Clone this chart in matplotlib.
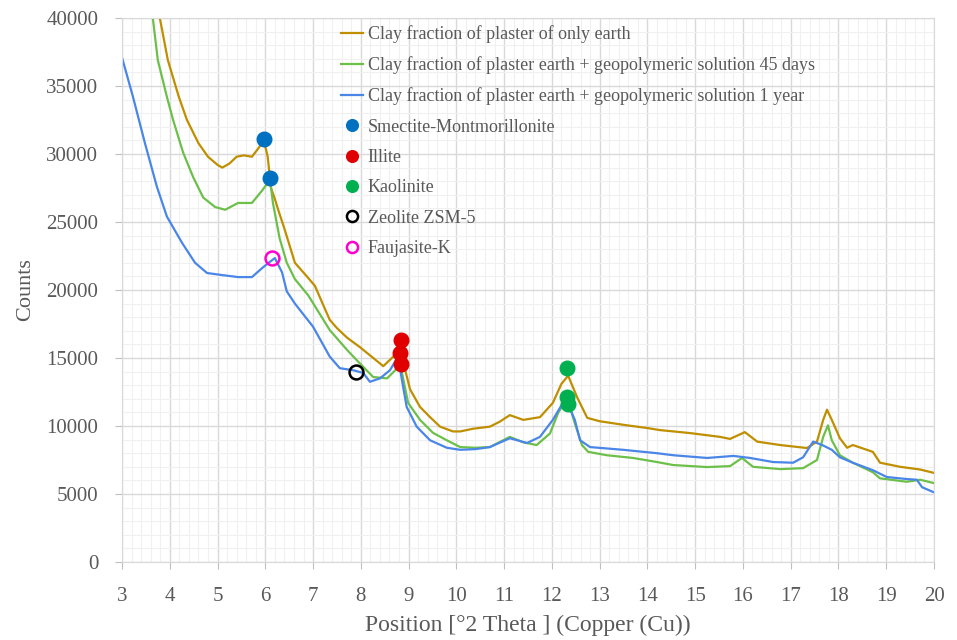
import matplotlib
matplotlib.use("Agg")
import matplotlib.pyplot as plt
from matplotlib.ticker import MultipleLocator

plt.rcParams['font.family'] = ['Liberation Serif', 'DejaVu Serif']

# XRD patterns
x_earth = [3.55, 3.8, 3.96, 4.19, 4.36, 4.6, 4.8, 5.0, 5.1, 5.25, 5.4, 5.55, 5.72, 5.83, 5.97,
           6.05, 6.12, 6.2, 6.27, 6.41, 6.62, 6.87, 7.04, 7.2, 7.35, 7.5, 7.71, 7.98, 8.26, 8.47,
           8.68, 8.84, 8.93, 9.03, 9.24, 9.45, 9.66, 9.93, 10.08, 10.35, 10.7, 10.9, 11.12, 11.4,
           11.75, 12.02, 12.2, 12.34, 12.53, 12.74, 13.0, 13.57, 14.0, 14.26, 14.89, 15.52, 15.73,
           16.04, 16.3, 16.78, 17.34, 17.55, 17.68, 17.76, 17.86, 18.03, 18.18, 18.3, 18.72, 18.87,
           19.29, 19.71, 20.0]
y_earth = [43500, 39850, 36900, 34200, 32500, 30800, 29800, 29200, 29000, 29300, 29800, 29900, 29800,
           30300, 31000, 29800, 27500, 26700, 25900, 24400, 22000, 21000, 20300, 19000, 17800, 17200,
           16500, 15800, 15000, 14400, 15100, 16000, 14100, 12700, 11400, 10650, 9950, 9600, 9600,
           9800, 9950, 10300, 10800, 10450, 10650, 11700, 13100, 13700, 12100, 10600, 10350, 10050,
           9850, 9700, 9480, 9200, 9050, 9550, 8850, 8600, 8380, 8850, 10450, 11200, 10450, 9100,
           8400, 8600, 8100, 7300, 7000, 6800, 6550]

x_45d = [3.5, 3.65, 3.75, 3.94, 4.07, 4.28, 4.49, 4.7, 4.95, 5.16, 5.43, 5.72, 5.93, 6.1, 6.16,
         6.3, 6.45, 6.62, 6.9, 7.35, 7.71, 7.98, 8.26, 8.55, 8.72, 8.82, 8.88, 8.99, 9.24, 9.51,
         9.8, 10.08, 10.4, 10.7, 11.12, 11.4, 11.68, 11.96, 12.13, 12.32, 12.48, 12.63, 12.76,
         13.15, 13.7, 14.2, 14.54, 15.25, 15.73, 15.98, 16.21, 16.78, 17.26, 17.55, 17.68, 17.78,
         17.86, 18.03, 18.3, 18.72, 18.87, 19.43, 19.71, 20.0]
y_45d = [42500, 39850, 36900, 34200, 32500, 30100, 28300, 26800, 26100, 25900, 26400, 26400, 27300,
         28100, 26400, 23800, 22000, 20800, 19600, 17050, 15600, 14600, 13600, 13500, 14100, 14600,
         13600, 11700, 10450, 9500, 8950, 8450, 8400, 8450, 9200, 8800, 8600, 9450, 10950, 12100,
         10200, 8600, 8100, 7850, 7650, 7350, 7130, 6980, 7050, 7650, 7000, 6830, 6900, 7500, 9200,
         10050, 8950, 7850, 7300, 6600, 6150, 5900, 6050, 5800]

x_1y = [3.0, 3.23, 3.48, 3.73, 3.94, 4.26, 4.53, 4.78, 5.09, 5.43, 5.72, 5.93, 6.07, 6.2, 6.35,
        6.45, 6.62, 7.0, 7.35, 7.56, 7.84, 8.05, 8.19, 8.4, 8.61, 8.78, 8.86, 8.96, 9.17, 9.45,
        9.8, 10.08, 10.4, 10.7, 11.12, 11.48, 11.75, 12.02, 12.23, 12.34, 12.48, 12.59, 12.8,
        13.49, 14.2, 14.54, 15.25, 15.8, 16.15, 16.63, 17.05, 17.26, 17.47, 17.66, 17.86, 18.03,
        18.3, 18.72, 19.01, 19.43, 19.64, 19.75, 19.98]
y_1y = [37100, 34200, 30800, 27600, 25400, 23450, 22000, 21250, 21100, 20950, 20950, 21600, 22000,
        22350, 21300, 19900, 19000, 17300, 15100, 14250, 14100, 13900, 13250, 13500, 14100, 15100,
        13400, 11400, 9950, 8950, 8400, 8250, 8300, 8450, 9100, 8750, 9200, 10450, 11700, 11600,
        10450, 8950, 8450, 8250, 8000, 7850, 7650, 7800, 7650, 7350, 7300, 7700, 8850, 8600, 8250,
        7700, 7300, 6750, 6250, 6100, 6050, 5500, 5150]

# mineral markers
smectite_x = [5.97, 6.1]
smectite_y = [31100, 28200]
illite_x = [8.84, 8.81, 8.84]
illite_y = [16300, 15350, 14550]
kaolinite_x = [12.32, 12.32, 12.34]
kaolinite_y = [14260, 12150, 11650]
zeolite_x = [7.9]
zeolite_y = [13970]
faujasite_x = [6.14]
faujasite_y = [22350]

text_c = '#595959'

fig = plt.figure(figsize=(9.57, 6.4), dpi=100)
ax = fig.add_axes([122 / 957, 78 / 640, 812 / 957, 544 / 640])

ax.plot(x_earth, y_earth, color='#BF8F00', lw=1.6, label='Clay fraction of plaster of only earth')
ax.plot(x_45d, y_45d, color='#6CC04A', lw=1.6,
        label='Clay fraction of plaster earth + geopolymeric solution 45 days')
ax.plot(x_1y, y_1y, color='#4A86E8', lw=1.6,
        label='Clay fraction of plaster earth + geopolymeric solution 1 year')

ax.plot(smectite_x, smectite_y, 'o', color='#0070C0', ms=10.5, ls='none', label='Smectite-Montmorillonite')
ax.plot(illite_x, illite_y, 'o', color='#E00000', ms=10.5, ls='none', label='Illite')
ax.plot(kaolinite_x, kaolinite_y, 'o', color='#00B050', ms=10.5, ls='none', label='Kaolinite')
ax.plot(zeolite_x, zeolite_y, 'o', mfc='none', mec='black', mew=1.8, ms=10, ls='none',
        label='Zeolite ZSM-5')
ax.plot(faujasite_x, faujasite_y, 'o', mfc='none', mec='#FF00CC', mew=1.8, ms=10, ls='none',
        label='Faujasite-K')

ax.set_xlim(3, 20)
ax.set_ylim(0, 40000)
ax.xaxis.set_major_locator(MultipleLocator(1))
ax.xaxis.set_minor_locator(MultipleLocator(0.2))
ax.yaxis.set_major_locator(MultipleLocator(5000))
ax.yaxis.set_minor_locator(MultipleLocator(1000))
ax.grid(which='major', color='#D9D9D9', lw=1.0)
ax.grid(which='minor', color='#F0F0F0', lw=0.8)
ax.set_axisbelow(True)

for s in ax.spines.values():
    s.set_color('#D9D9D9')
ax.tick_params(which='major', colors='#BFBFBF', labelcolor=text_c, labelsize=15, length=5)
ax.tick_params(which='minor', length=0)
ax.tick_params(axis='x', pad=13)
ax.tick_params(axis='y', pad=12)

ax.set_xlabel('Position [°2 Theta ] (Copper (Cu))', fontsize=17, color=text_c, labelpad=6)
ax.set_ylabel('Counts', fontsize=16, color=text_c, labelpad=8)

leg = ax.legend(loc='upper left', bbox_to_anchor=(341 / 957, 1 - 25 / 640),
                bbox_transform=fig.transFigure, frameon=False, fontsize=13,
                handlelength=1.22, handletextpad=0.25, labelspacing=0.74,
                borderpad=0, borderaxespad=0, markerscale=0.8)
for t in leg.get_texts():
    t.set_color(text_c)

fig.savefig('out.png', dpi=100)
